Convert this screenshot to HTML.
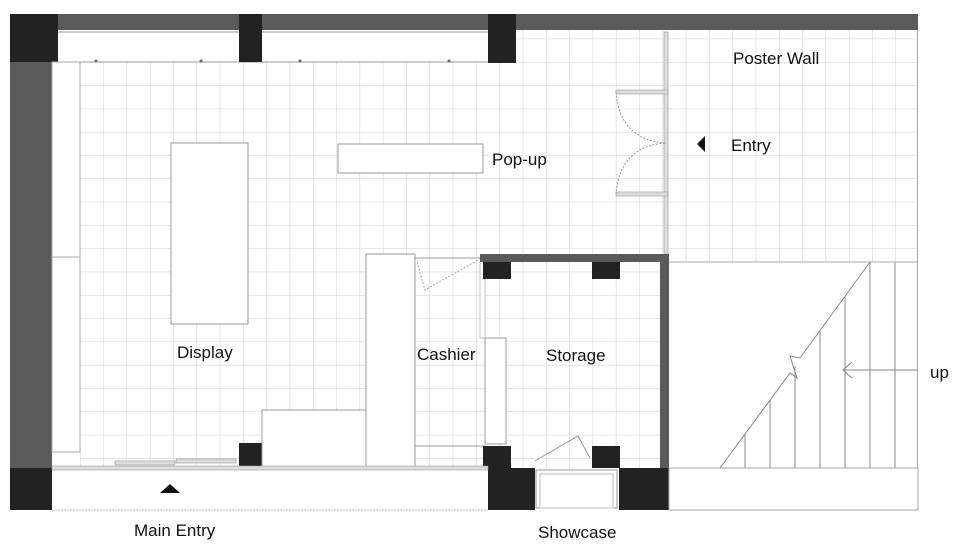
<!DOCTYPE html>
<html><head><meta charset="utf-8"><style>
html,body{margin:0;padding:0;background:#fff;}
svg{display:block;}
text{font-family:"Liberation Sans",sans-serif;font-size:17px;fill:#111;}
</style></head><body>
<svg width="960" height="546" viewBox="0 0 960 546" xmlns="http://www.w3.org/2000/svg">
<defs>
<pattern id="g" x="80" y="62" width="23.3" height="23.3" patternUnits="userSpaceOnUse">
<path d="M0 0H23.3M0 0V23.3" stroke="#cfcfcf" stroke-width="1" fill="none"/>
</pattern>
</defs>
<!-- grid floor -->
<rect x="80" y="62" width="838" height="406" fill="url(#g)"/>
<rect x="516" y="30" width="402" height="32" fill="url(#g)"/>
<!-- stair area white -->
<rect x="669" y="262" width="249" height="206" fill="#fff"/>
<line x1="669" y1="262" x2="918" y2="262" stroke="#aaa"/>
<line x1="917.5" y1="30" x2="917.5" y2="510" stroke="#aaa"/>
<!-- top wall -->
<rect x="10" y="14" width="908" height="16" fill="#5a5a5a"/>
<rect x="58" y="30" width="430" height="32" fill="#fff"/>
<line x1="58" y1="32" x2="488" y2="32" stroke="#999"/>
<line x1="58" y1="62" x2="488" y2="62" stroke="#999"/>
<g fill="#666"><circle cx="96" cy="61" r="1.5"/><circle cx="201" cy="61" r="1.5"/><circle cx="300" cy="61" r="1.5"/><circle cx="449" cy="61" r="1.5"/></g>
<rect x="10" y="14" width="48" height="48" fill="#222"/>
<rect x="239" y="14" width="23" height="48" fill="#222"/>
<rect x="488" y="14" width="28" height="49" fill="#222"/>
<!-- left wall -->
<rect x="10" y="62" width="42" height="406" fill="#5a5a5a"/>
<rect x="10" y="468" width="42" height="42" fill="#222"/>
<rect x="52" y="62" width="28" height="390" fill="#fff" stroke="#aaa"/>
<line x1="52" y1="257" x2="80" y2="257" stroke="#aaa"/>
<!-- display / popup -->
<rect x="171" y="143" width="77" height="181" fill="#fff" stroke="#999"/>
<rect x="338" y="144" width="145" height="29" fill="#fff" stroke="#999"/>
<!-- entry glass wall -->
<rect x="664" y="32" width="4" height="222" fill="#ddd" stroke="#999" stroke-width="0.6"/>
<rect x="616" y="90" width="52" height="4" fill="#ddd" stroke="#999" stroke-width="0.6"/>
<rect x="616" y="192" width="52" height="4" fill="#ddd" stroke="#999" stroke-width="0.6"/>
<path d="M616 92 Q620 140 666 143 Q620 146 616 194" fill="none" stroke="#999" stroke-dasharray="2 1.5"/>
<polygon points="697,144 705,136 705,152" fill="#111"/>
<!-- cashier column -->
<rect x="366" y="254" width="49" height="214" fill="#fff" stroke="#999"/>
<line x1="415" y1="258" x2="480" y2="258" stroke="#999"/>
<line x1="415" y1="446" x2="485" y2="446" stroke="#999"/>
<path d="M417 262 L425 290 L478 260" fill="none" stroke="#aaa" stroke-dasharray="2 1.5"/>
<rect x="480" y="258" width="5" height="80" fill="#fff" stroke="#999" stroke-width="0.6"/>
<rect x="485" y="338" width="21" height="106" fill="#fff" stroke="#999"/>
<!-- storage walls -->
<rect x="480" y="254" width="189" height="8" fill="#5a5a5a"/>
<rect x="660" y="254" width="9" height="214" fill="#5a5a5a"/>
<g fill="#222">
<rect x="483" y="262" width="28" height="17"/><rect x="592" y="262" width="28" height="17"/>
<rect x="483" y="446" width="28" height="22"/><rect x="592" y="446" width="28" height="22"/>
<rect x="488" y="468" width="47" height="42"/><rect x="619" y="468" width="50" height="42"/>
<rect x="239" y="443" width="23" height="25"/>
</g>
<rect x="536" y="470" width="81" height="38" fill="#fff" stroke="#999"/>
<rect x="540" y="474" width="73" height="34" fill="none" stroke="#bbb"/>
<path d="M535 461 L578 436 L590 458" fill="none" stroke="#999"/>
<!-- sales box -->
<rect x="262" y="410" width="104" height="58" fill="#fff" stroke="#999"/>
<!-- bottom glazing -->
<rect x="52" y="466" width="436" height="4" fill="#ddd" stroke="#999" stroke-width="0.6"/>
<rect x="115" y="461" width="60" height="4" fill="#ddd" stroke="#999" stroke-width="0.6"/>
<rect x="176" y="459" width="60" height="4" fill="#ddd" stroke="#999" stroke-width="0.6"/>
<line x1="52" y1="510" x2="488" y2="510" stroke="#bbb" stroke-dasharray="2 1"/>
<rect x="669" y="468" width="249" height="42" fill="#fff" stroke="#aaa"/>
<polygon points="170,484 160,493 180,493" fill="#111"/>
<!-- stairs -->
<g stroke="#888" fill="none">
<path d="M720 468 L790 373 L797 378 L790 356 L800 358 L870 262"/>
<path d="M745 468V434 M770 468V400 M795 468V366 M820 468V331 M845 468V296 M870 468V262 M895 468V262"/>
<path d="M918 370H843 M852 362 L843 370 L852 378"/>
</g>
<!-- labels -->
<text x="733" y="64">Poster Wall</text>
<text x="731" y="151">Entry</text>
<text x="492" y="165">Pop-up</text>
<text x="177" y="358">Display</text>
<text x="417" y="360">Cashier</text>
<text x="546" y="361">Storage</text>
<text x="930" y="378">up</text>
<text x="134" y="536">Main Entry</text>
<text x="538" y="538">Showcase</text>
</svg>
</body></html>
